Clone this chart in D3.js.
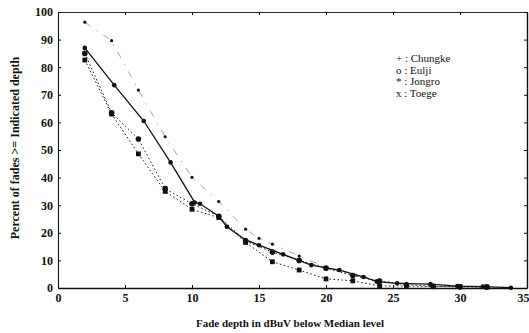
<!DOCTYPE html>
<html>
<head>
<meta charset="utf-8">
<script src="https://cdn.jsdelivr.net/npm/d3@7"></script>
<style>
  body { margin: 0; background: #fff; }
  svg text { font-family: "Liberation Serif", "DejaVu Serif", serif; fill: #111; }
  .axis path, .axis line { stroke: #111; }
</style>
</head>
<body>
<div id="chart"></div>
<script>
// data
var xTicks = [0, 5, 10, 15, 20, 25, 30, 35];
var yTicks = [0, 10, 20, 30, 40, 50, 60, 70, 80, 90, 100];

// solid line
var chungkeX = [2, 4.2, 6.4, 8.4, 10.2, 10.6, 12, 12.6, 14, 15, 16.8, 18.9, 21, 22.8, 23.8, 25.3, 27.8, 29.8, 31.7, 33.8];
var chungkeY = [87, 73.5, 60.5, 45.5, 31, 30.5, 26, 22.2, 17.4, 15.5, 12.2, 8.3, 6.5, 4, 2.3, 1.7, 1.4, 0.7, 0.5, 0.1];
// upper dotted line
var euljiX = [2, 4, 6, 8, 10, 12, 14, 16, 18, 20, 22, 24, 26, 28, 30, 32];
var euljiY = [85, 63.5, 54, 36, 30.5, 26, 17, 13, 10, 7.2, 4.5, 2.5, 1.2, 0.6, 0.4, 0.3];
// dash-dot line
var jongroX = [2, 4, 6, 8, 10, 12, 14, 15, 16, 18, 20, 22, 24, 26];
var jongroY = [96.3, 89.6, 71.7, 54.8, 40.1, 31.3, 21.3, 18, 15.9, 11.6, 7.5, 4.7, 2.9, 1.7];
// lower dotted line
var toegeX = [2, 4, 6, 8, 10, 12, 14, 16, 18, 20, 22, 24, 26, 28, 30, 32];
var toegeY = [82.6, 63, 48.6, 35, 28.5, 25.5, 16.5, 9.5, 6.5, 3.3, 2.6, 0.8, 0.7, 0.5, 0.5, 0.4];

var legendItems = ['+ : Chungke', 'o : Eulji', '* : Jongro', 'x : Toege'];

function zip (xs, ys) {
  return xs.map(function (v, i) { return {x: v, y: ys[i]}; });
}

var W = 529, H = 333;
var svg = d3.select('#chart').append('svg')
  .attr('width', W)
  .attr('height', H);

var xScale = d3.scaleLinear().domain([0, 35]).range([58, 527]);
var yScale = d3.scaleLinear().domain([0, 100]).range([288, 12]);

// axes (ticks point inward, like the original)
svg.append('g')
  .attr('class', 'axis')
  .attr('transform', 'translate(0,' + yScale(0) + ')')
  .call(d3.axisBottom(xScale).tickValues(xTicks).tickSizeInner(-3).tickSizeOuter(0).tickPadding(5))
  .call(function (g) {
    g.select('.domain').attr('stroke-width', 1.6);
    g.selectAll('text').attr('font-size', 12).attr('font-weight', 'bold');
    // last label sits on the page edge
    g.selectAll('text').filter(function (d) { return d === 35; }).attr('text-anchor', 'end').attr('dx', 2);
  });
svg.append('g')
  .attr('class', 'axis')
  .attr('transform', 'translate(' + xScale(0) + ',0)')
  .call(d3.axisLeft(yScale).tickValues(yTicks).tickSizeInner(-3).tickSizeOuter(0).tickPadding(5))
  .call(function (g) {
    g.select('.domain').attr('stroke-width', 1.1);
    g.selectAll('text').attr('font-size', 12).attr('font-weight', 'bold');
  });
svg.append('g')
  .attr('class', 'axis')
  .attr('transform', 'translate(0,' + yScale(100) + ')')
  .call(d3.axisTop(xScale).tickValues(xTicks).tickSizeInner(-3).tickSizeOuter(0).tickFormat(''))
  .call(function (g) { g.select('.domain').attr('stroke-width', 0.9); });
svg.append('g')
  .attr('class', 'axis')
  .attr('transform', 'translate(' + xScale(35) + ',0)')
  .call(d3.axisRight(yScale).tickValues(yTicks).tickSizeInner(-3).tickSizeOuter(0).tickFormat(''))
  .call(function (g) { g.select('.domain').attr('stroke-width', 1.4); });

var line = d3.line()
  .x(function (d) { return xScale(d.x); })
  .y(function (d) { return yScale(d.y); });

var series = [
  {name: 'jongro', data: zip(jongroX, jongroY), stroke: '#999', width: 0.9, dash: '7,7,1.5,7', r: 1.6},
  {name: 'toege', data: zip(toegeX, toegeY), stroke: '#222', width: 1, dash: '1.6,2.4', r: 2.4},
  {name: 'eulji', data: zip(euljiX, euljiY), stroke: '#222', width: 1, dash: '1.6,2.4', r: 2.8},
  {name: 'chungke', data: zip(chungkeX, chungkeY), stroke: '#111', width: 1.3, dash: null, r: 2.3}
];

series.forEach(function (s) {
  svg.append('path')
    .datum(s.data)
    .attr('fill', 'none')
    .attr('stroke', s.stroke)
    .attr('stroke-width', s.width)
    .attr('stroke-dasharray', s.dash)
    .attr('d', line);
  var g = svg.append('g');
  if (s.name === 'toege') {
    g.selectAll('rect')
      .data(s.data)
      .enter().append('rect')
      .attr('x', function (d) { return xScale(d.x) - s.r; })
      .attr('y', function (d) { return yScale(d.y) - s.r; })
      .attr('width', s.r * 2)
      .attr('height', s.r * 2)
      .attr('fill', '#111');
  } else {
    g.selectAll('circle')
      .data(s.data)
      .enter().append('circle')
      .attr('cx', function (d) { return xScale(d.x); })
      .attr('cy', function (d) { return yScale(d.y); })
      .attr('r', s.r)
      .attr('fill', '#111');
  }
});

// legend
svg.append('g')
  .selectAll('text')
  .data(legendItems)
  .enter().append('text')
  .attr('x', 396)
  .attr('y', function (d, i) { return 62 + i * 11.7; })
  .attr('font-size', 11)
  .text(function (d) { return d; });

// axis titles
svg.append('text')
  .attr('x', 290)
  .attr('y', 327)
  .attr('text-anchor', 'middle')
  .attr('font-size', 11)
  .attr('font-weight', 'bold')
  .text('Fade depth in dBuV below Median level');
svg.append('text')
  .attr('transform', 'translate(19,148) rotate(-90)')
  .attr('text-anchor', 'middle')
  .attr('font-size', 12)
  .attr('font-weight', 'bold')
  .text('Percent of fades >= Indicated depth');
</script>
</body>
</html>
